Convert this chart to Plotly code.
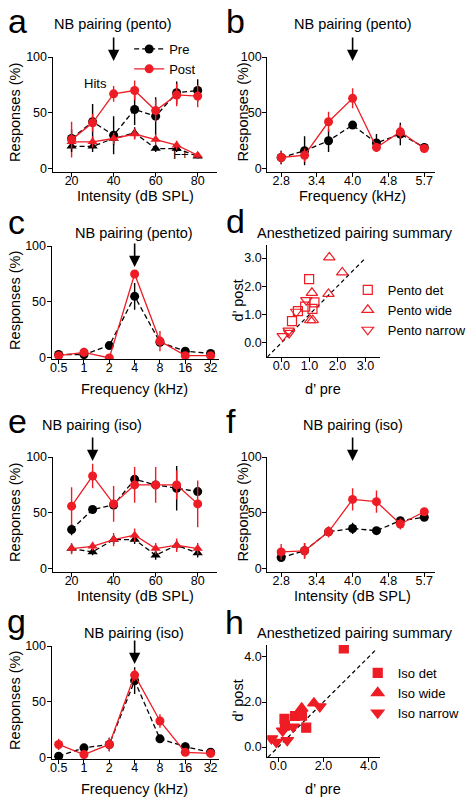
import math
import plotly.graph_objects as go

W, H = 471, 800
RED = "#ee1c24"
BLACK = "#000000"
FONT = "Liberation Sans, Arial, Helvetica, sans-serif"

# ---------------- data ----------------
intensity = [20, 30, 40, 50, 60, 70, 80]
freq_fine = [2.83, 3.17, 3.56, 4.0, 4.49, 5.04, 5.66]
freq_oct = [0.5, 1, 2, 4, 8, 16, 32]
fine_tickvals = [2.83, 3.36, 4.0, 4.76, 5.66]
fine_ticktext = ["2.8", "3.4", "4.0", "4.8", "5.7"]
oct_ticktext = ["0.5", "1", "2", "4", "8", "16", "32"]

# panel a (pento, intensity)
a_pre_hits = [27, 42, 30, 53, 47, 68, 70]
a_pre_hits_err = [8, 16, 17, 14, 17, 10, 10]
a_post_hits = [26, 41, 67, 70, 52, 66, 65]
a_post_hits_err = [16, 8, 7, 9, 10, 10, 10]
a_pre_fa = [20, 20, 27, 32, 18, 18, 11]
a_pre_fa_err = [5, 5, 6, 5, 3, 3, 2]
a_post_fa = [24, 24, 27, 31, 26, 21, 12]
a_post_fa_err = [6, 5, 5, 5, 5, 4, 3]

# panel b (pento, fine frequency)
b_pre = [10, 16, 25, 39, 23, 31, 19]
b_pre_err = [6, 13, 10, 3, 8, 10, 4]
b_post = [10, 12, 42, 63, 19, 33, 18]
b_post_err = [6, 6, 9, 9, 4, 6, 4]

# panel c (pento, octave frequency)
c_pre = [3, 3, 11, 55, 14, 6, 4]
c_pre_err = [2, 2, 2, 12, 3, 2, 2]
c_post = [2, 5, 0, 75, 15, 2, 2]
c_post_err = [1, 4, 0, 3, 9, 1, 1]

# panel d (pento d' summary)
d_det_pre = [0.99, 0.38, 0.59, 0.85, 1.18, 1.11]
d_det_post = [2.25, 0.77, 1.12, 1.28, 1.43, 1.20]
d_wide_pre = [1.09, 1.03, 1.12, 1.68, 2.17, 1.71]
d_wide_post = [1.77, 0.80, 0.80, 1.73, 2.49, 3.02]
d_narrow_pre = [0.05, 0.26, 0.28, 0.53, 0.89]
d_narrow_post = [0.24, 0.43, 0.35, 1.10, 1.51]
d_unity = [-0.5, 3.0]

# panel e (iso, intensity)
e_pre_hits = [35, 53, 57, 80, 75, 72, 69]
e_pre_hits_err = [5, 2, 2, 3, 2, 20, 3]
e_post_hits = [56, 83, 58, 75, 75, 75, 58]
e_post_hits_err = [17, 11, 16, 16, 16, 13, 21]
e_pre_fa = [18, 15, 26, 26, 12, 21, 14]
e_pre_fa_err = [4, 3, 4, 4, 4, 4, 4]
e_post_fa = [18, 20, 26, 30, 18, 21, 18]
e_post_fa_err = [5, 4, 6, 6, 5, 6, 5]

# panel f (iso, fine frequency)
f_pre = [10, 16, 33, 36, 34, 43, 46]
f_pre_err = [2, 7, 4, 5, 3, 3, 3]
f_post = [15, 16, 33, 62, 60, 40, 51]
f_post_err = [7, 7, 5, 10, 10, 5, 3]

# panel g (iso, octave frequency)
g_pre = [1.5, 9, 12, 69, 17, 10, 5]
g_pre_err = [1, 2, 6, 12, 2, 4, 3]
g_post = [12, 3, 12, 74, 33, 5, 4]
g_post_err = [5, 2, 6, 5, 6, 2, 2]

# panel h (iso d' summary)
h_det_pre = [2.90, 0.28, 0.30, 0.75, 1.05, 1.24]
h_det_post = [4.38, 1.25, 0.95, 1.38, 1.40, 0.86]
h_wide_pre = [1.04, 1.58, 0.95]
h_wide_post = [1.72, 1.95, 1.45]
h_narrow_pre = [1.84, 0.66, 0.20, -0.30, -0.08, 0.40]
h_narrow_post = [1.80, 0.90, 0.72, 0.38, 0.22, 0.30]
h_unity = [-0.45, 4.35]


def px(x):
    return x / W


def py(y):
    return 1 - y / H


def xdom(l, r):
    return [px(l), px(r)]


def ydom(t, b):
    return [py(b), py(t)]


fig = go.Figure()


def err(arr, color):
    return dict(type="data", array=arr, visible=True, color=color, thickness=1.4, width=0)


def pair_traces(n, x, pre, pre_e, post, post_e, symbol="circle", legend=False):
    xa, ya = ("x" if n == 1 else f"x{n}"), ("y" if n == 1 else f"y{n}")
    fig.add_trace(go.Scatter(
        x=x, y=pre, error_y=err(pre_e, BLACK), mode="lines+markers",
        line=dict(color=BLACK, width=1.3, dash="5px,3px"),
        marker=dict(symbol=symbol, size=9, color=BLACK),
        name="Pre", showlegend=legend, legend="legend", xaxis=xa, yaxis=ya))
    fig.add_trace(go.Scatter(
        x=x, y=post, error_y=err(post_e, RED), mode="lines+markers",
        line=dict(color=RED, width=1.3),
        marker=dict(symbol=symbol, size=9, color=RED),
        name="Post", showlegend=legend, legend="legend", xaxis=xa, yaxis=ya))


pair_traces(1, intensity, a_pre_hits, a_pre_hits_err, a_post_hits, a_post_hits_err, legend=True)
pair_traces(1, intensity, a_pre_fa, a_pre_fa_err, a_post_fa, a_post_fa_err, symbol="triangle-up")
pair_traces(2, freq_fine, b_pre, b_pre_err, b_post, b_post_err)
pair_traces(3, freq_oct, c_pre, c_pre_err, c_post, c_post_err)
pair_traces(5, intensity, e_pre_hits, e_pre_hits_err, e_post_hits, e_post_hits_err)
pair_traces(5, intensity, e_pre_fa, e_pre_fa_err, e_post_fa, e_post_fa_err, symbol="triangle-up")
pair_traces(6, freq_fine, f_pre, f_pre_err, f_post, f_post_err)
pair_traces(7, freq_oct, g_pre, g_pre_err, g_post, g_post_err)


def summary(n, unity, sets, legend):
    xa, ya = f"x{n}", f"y{n}"
    fig.add_trace(go.Scatter(x=unity, y=unity, mode="lines",
                             line=dict(color=BLACK, width=1.2, dash="4px,3px"),
                             showlegend=False, xaxis=xa, yaxis=ya, hoverinfo="skip"))
    for name, xs, ys, sym, size in sets:
        fig.add_trace(go.Scatter(x=xs, y=ys, mode="markers", name=name,
                                 marker=dict(symbol=sym, size=size, color=RED,
                                             line=dict(color=RED, width=1.2)),
                                 legend=legend, xaxis=xa, yaxis=ya))


summary(4, d_unity, [
    ("Pento det", d_det_pre, d_det_post, "square-open", 9),
    ("Pento wide", d_wide_pre, d_wide_post, "triangle-up-open", 10),
    ("Pento narrow", d_narrow_pre, d_narrow_post, "triangle-down-open", 10),
], "legend2")
summary(8, h_unity, [
    ("Iso det", h_det_pre, h_det_post, "square", 9),
    ("Iso wide", h_wide_pre, h_wide_post, "triangle-up", 11),
    ("Iso narrow", h_narrow_pre, h_narrow_post, "triangle-down", 11),
], "legend3")

axis_common = dict(showline=True, linecolor=BLACK, linewidth=1.3, ticks="outside",
                   ticklen=4, tickwidth=1.3, tickcolor=BLACK, showgrid=False,
                   zeroline=False, tickfont=dict(family=FONT, size=12.5, color=BLACK),
                   automargin=False)
xcommon = dict(axis_common, ticklabelstandoff=-7)
ycommon = dict(axis_common, ticklabelstandoff=-2)

lay = {}
# intensity panels
for n, top, bot in [(1, 57, 172), (5, 457, 572)]:
    lay[f"xaxis{n}"] = dict(xcommon, domain=xdom(53, 218), range=[11, 89],
                            tickvals=[20, 40, 60, 80], anchor=f"y{n}")
    lay[f"yaxis{n}"] = dict(ycommon, domain=ydom(top, bot), range=[-3, 100],
                            tickvals=[0, 50, 100], anchor=f"x{n}")
# fine frequency panels
for n, top, bot in [(2, 57, 172), (6, 457, 572)]:
    lay[f"xaxis{n}"] = dict(xcommon, domain=xdom(269, 438), type="log",
                            range=[0.4226, 0.7758], tickvals=fine_tickvals,
                            ticktext=fine_ticktext, anchor=f"y{n}")
    lay[f"yaxis{n}"] = dict(ycommon, domain=ydom(top, bot), range=[-3, 100],
                            tickvals=[0, 50, 100], anchor=f"x{n}")
# octave panels
for n, top, bot in [(3, 246, 359), (7, 646, 759)]:
    lay[f"xaxis{n}"] = dict(xcommon, domain=xdom(52, 220), type="log",
                            range=[-0.384, 1.60], tickvals=freq_oct,
                            ticktext=oct_ticktext, anchor=f"y{n}")
    lay[f"yaxis{n}"] = dict(ycommon, domain=ydom(top, bot), range=[-1, 100],
                            tickvals=[0, 50, 100], anchor=f"x{n}")
# summary panels
lay["xaxis4"] = dict(xcommon, domain=xdom(269, 382), range=[-0.5, 3.5],
                     tickvals=[0, 1, 2, 3], tickformat=".1f", anchor="y4")
lay["yaxis4"] = dict(ycommon, domain=ydom(245, 357), range=[-0.5, 3.46],
                     tickvals=[0, 1, 2, 3], tickformat=".1f", anchor="x4")
lay["xaxis8"] = dict(xcommon, domain=xdom(269, 382), range=[-0.48, 4.48],
                     tickvals=[0, 2, 4], tickformat=".1f", anchor="y8")
lay["yaxis8"] = dict(ycommon, domain=ydom(645, 757), range=[-0.44, 4.53],
                     tickvals=[0, 2, 4], tickformat=".1f", anchor="x8")
lay["xaxis"] = lay.pop("xaxis1")
lay["yaxis"] = lay.pop("yaxis1")

ann = []


def text(t, x, y, size=14.5, angle=0, xanchor="center", yanchor="middle"):
    ann.append(dict(text=t, x=px(x), y=py(y), xref="paper", yref="paper",
                    showarrow=False, textangle=angle, xanchor=xanchor, yanchor=yanchor,
                    font=dict(family=FONT, size=size, color=BLACK)))


# panel letters (y = top of text box)
for t, x, y in [("a", 18, 0), ("b", 237, 0), ("c", 17, 201), ("d", 237, 200),
                ("e", 18, 400), ("f", 232, 400), ("g", 17, 600), ("h", 236, 601)]:
    text(t, x, y, size=34, yanchor="top")

# titles
for t, x, y in [("NB pairing (pento)", 114, 24), ("NB pairing (pento)", 355, 24),
                ("NB pairing (pento)", 135, 233), ("Anesthetized pairing summary", 357, 233),
                ("NB pairing (iso)", 93, 425), ("NB pairing (iso)", 355, 425),
                ("NB pairing (iso)", 135, 633), ("Anesthetized pairing summary", 357, 633)]:
    text(t, x, y)

# axis titles
for t, x, y in [("Responses (%)", 15, 112), ("Responses (%)", 245, 112),
                ("Responses (%)", 15, 300), ("d\u2019 post", 240, 300),
                ("Responses (%)", 15, 512), ("Responses (%)", 245, 512),
                ("Responses (%)", 15, 700), ("d\u2019 post", 240, 700)]:
    text(t, x, y, angle=-90)
for t, x, y in [("Intensity (dB SPL)", 136, 196), ("Frequency (kHz)", 355, 196),
                ("Frequency (kHz)", 135, 389), ("d\u2019 pre", 325, 389),
                ("Intensity (dB SPL)", 136, 596), ("Intensity (dB SPL)", 355, 596),
                ("Frequency (kHz)", 135, 789), ("d\u2019 pre", 325, 789)]:
    text(t, x, y)

text("Hits", 96, 83, size=13)
text("F+", 182, 155, size=13)

# arrows marking the paired frequency / intensity
for xref, xv, tip in [("x", 40, 61), ("x2", math.log10(4.0), 61), ("x3", math.log10(4), 267),
                      ("x5", 30, 461), ("x6", math.log10(4.0), 461), ("x7", math.log10(4), 664)]:
    ann.append(dict(text="", x=xv, xref=xref, y=py(tip), yref="paper", showarrow=True,
                    ax=0, ay=-25, arrowhead=2, arrowsize=1.4, arrowwidth=1.6,
                    arrowcolor=BLACK))

fig.update_layout(
    width=W, height=H, margin=dict(l=0, r=0, t=0, b=0),
    paper_bgcolor="white", plot_bgcolor="white",
    font=dict(family=FONT, size=13, color=BLACK),
    annotations=ann,
    legend=dict(x=px(130), y=py(34), xanchor="left", yanchor="top",
                font=dict(family=FONT, size=13), bgcolor="rgba(0,0,0,0)",
                itemwidth=30, tracegroupgap=0),
    legend2=dict(x=px(350), y=py(275), xanchor="left", yanchor="top",
                 font=dict(family=FONT, size=13), bgcolor="rgba(0,0,0,0)", itemwidth=30),
    legend3=dict(x=px(360), y=py(658), xanchor="left", yanchor="top",
                 font=dict(family=FONT, size=13), bgcolor="rgba(0,0,0,0)", itemwidth=30),
    **lay,
)

fig.write_html("out.html", config={"displayModeBar": False},
               post_script="document.body.style.margin='0px';")
